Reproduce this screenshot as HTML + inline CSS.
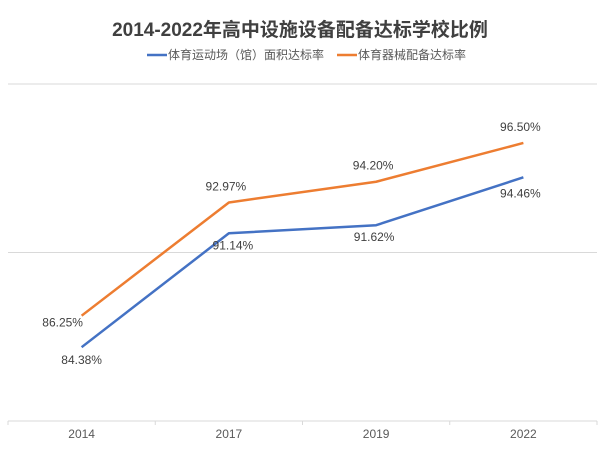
<!DOCTYPE html>
<html><head><meta charset="utf-8"><style>
body{margin:0;background:#fff;}
svg{display:block;font-family:"Liberation Sans","Noto Sans CJK SC",sans-serif;}
</style></head><body>
<svg id="chart" width="600" height="449" viewBox="0 0 600 449">
<text x="300" y="36" text-anchor="middle" font-size="19" font-weight="bold" fill="#404040">2014-2022年高中设施设备配备达标学校比例</text>
<g>
<line x1="147" y1="55" x2="167" y2="55" stroke="#4472c4" stroke-width="2.5"/>
<text x="168" y="59" font-size="12" fill="#595959">体育运动场（馆）面积达标率</text>
<line x1="337" y1="55" x2="357" y2="55" stroke="#ed7d31" stroke-width="2.5"/>
<text x="358" y="59" font-size="12" fill="#595959">体育器械配备达标率</text>
</g>
<g id="grid"></g>
<g id="marks"></g>
</svg>
<script>
const categories=["2014","2017","2019","2022"];
const venueValues=[84.38,91.14,91.62,94.46];
const equipValues=[86.25,92.97,94.20,96.50];
const gridValues=[90,100];
const ns="http://www.w3.org/2000/svg";
const plotL=8,plotR=597,axisY=421,topY=84,yMin=80,yMax=100;
const band=(plotR-plotL)/categories.length;
function x(i){return plotL+band*(i+0.5);}
function y(v){return axisY-(v-yMin)/(yMax-yMin)*(axisY-topY);}
const grid=document.getElementById('grid'),marks=document.getElementById('marks');
function mk(t,a,p){const e=document.createElementNS(ns,t);for(const k in a)e.setAttribute(k,a[k]);p.appendChild(e);return e;}
gridValues.forEach(v=>{
 const l=mk('line',{x1:plotL,x2:plotR,y1:y(v),y2:y(v),stroke:'#d9d9d9','stroke-width':1},grid);
 
 
});
const ax=mk('line',{x1:plotL,x2:plotR,y1:axisY,y2:axisY,stroke:'#d9d9d9','stroke-width':1},grid);


for(let i=0;i<=categories.length;i++){
 const t=mk('line',{x1:plotL+band*i,x2:plotL+band*i,y1:axisY,y2:axisY+4,stroke:'#d9d9d9'},grid);
 
 
}
categories.forEach((c,i)=>{
 const t=mk('text',{x:x(i),y:438,'text-anchor':'middle','font-size':12,fill:'#595959'},grid);
 t.textContent=c;
 
 
});
function series(vals,color,name,labelPos){
 const p=mk('polyline',{points:vals.map((v,i)=>x(i)+','+y(v)).join(' '),fill:'none',stroke:color,'stroke-width':2.5,'stroke-linejoin':'round'},marks);
 
 
 vals.forEach((v,i)=>{
  const dx=labelPos[i][0],dy=labelPos[i][1];
  const t=mk('text',{x:x(i)+dx,y:y(v)+dy,'text-anchor':'middle','font-size':12,fill:'#404040'},marks);
  t.textContent=v.toFixed(2)+'%';
  
  
 });
}
series(equipValues,'#ed7d31','equipment',[[-19,11],[-3,-12],[-3,-12],[-3,-12]]);
series(venueValues,'#4472c4','venue',[[0,17],[4,16],[-2,16],[-3,20]]);
</script>
</body></html>
